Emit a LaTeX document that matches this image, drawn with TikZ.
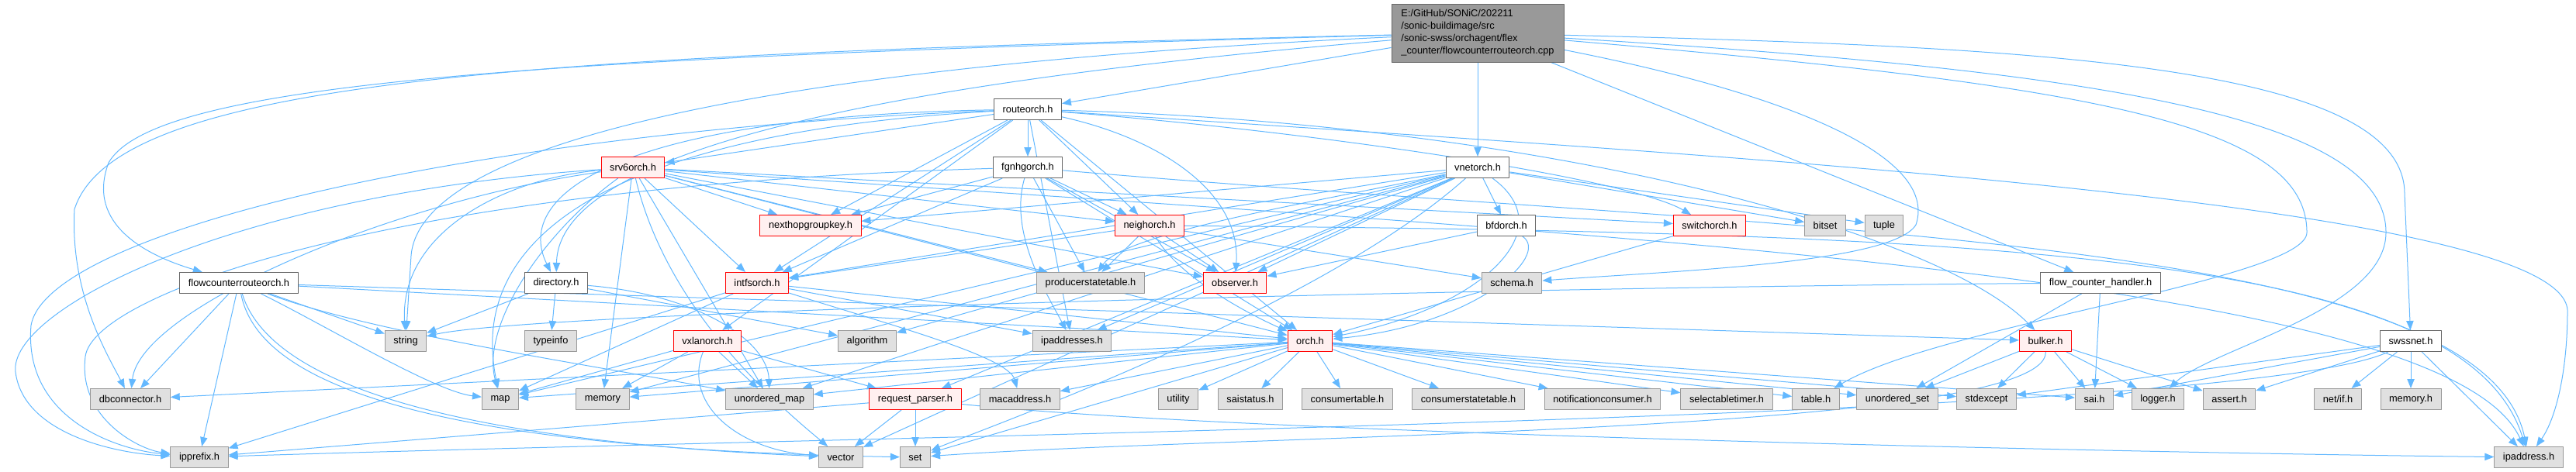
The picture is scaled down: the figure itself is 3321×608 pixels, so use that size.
\documentclass[tikz,border=0pt]{standalone}
\usepackage{fontspec}
\setmainfont{Liberation Sans}
\usetikzlibrary{arrows.meta,backgrounds}
\definecolor{edgeblue}{RGB}{99,184,255}
\definecolor{sysfill}{RGB}{224,224,224}
\definecolor{sysdraw}{RGB}{153,153,153}
\definecolor{hdrdraw}{RGB}{102,102,102}
\definecolor{truncfill}{RGB}{255,240,240}
\definecolor{truncdraw}{RGB}{255,0,0}
\definecolor{rootfill}{RGB}{153,153,153}

\begin{document}
\begin{tikzpicture}[x=0.75pt,y=-0.75pt,line cap=round,line join=round,
 >={Triangle[length=9pt,width=7pt]},
 box/.style={draw,line width=0.75pt,minimum height=20.25pt,inner xsep=8.3pt,inner ysep=0pt,
  font=\fontsize{9.6}{12}\selectfont},
 sysbox/.style={box,fill=sysfill,draw=sysdraw},
 hdrbox/.style={box,fill=white,draw=hdrdraw},
 truncbox/.style={box,fill=truncfill,draw=truncdraw},
 rootbox/.style={box,fill=rootfill,draw=hdrdraw,align=left,minimum width=166.5pt,minimum height=56.25pt},
 edge/.style={->,draw=edgeblue,line width=0.75pt}]
\useasboundingbox (0,0) rectangle (3321,608);
% Plik źródłowy i nagłówki projektu.
\node[rootbox] (root) at (1905,42.5)
 {E:/GitHub/SONiC/202211\\/sonic-buildimage/src\\/sonic-swss/orchagent/flex\\\_counter/flowcounterrouteorch.cpp};
\node[hdrbox] (routeorch) at (1325,141) {routeorch.h};
\node[truncbox] (srv6) at (816,216) {srv6orch.h};
\node[hdrbox] (fgnhg) at (1325,216) {fgnhgorch.h};
\node[hdrbox] (vnet) at (1905,216) {vnetorch.h};
\node[truncbox] (nhgkey) at (1045,291) {nexthopgroupkey.h};
\node[truncbox] (neighorch) at (1482,291) {neighorch.h};
\node[hdrbox] (bfdorch) at (1942,291) {bfdorch.h};
\node[truncbox] (switchorch) at (2204,291) {switchorch.h};
\node[sysbox] (bitset) at (2353,291) {bitset};
\node[sysbox] (tuple) at (2429,291) {tuple};
\node[hdrbox] (fcro) at (308,365) {flowcounterrouteorch.h};
\node[hdrbox] (directory) at (717,365) {directory.h};
\node[truncbox] (intfsorch) at (976,365) {intfsorch.h};
\node[sysbox] (prodst) at (1406,365) {producerstatetable.h};
\node[truncbox] (observer) at (1592,365) {observer.h};
\node[sysbox] (schema) at (1949,365) {schema.h};
\node[hdrbox] (fch) at (2708,365) {flow\_counter\_handler.h};
\node[sysbox] (string) at (523,440) {string};
\node[sysbox] (typeinfo) at (710,440) {typeinfo};
\node[truncbox] (vxlanorch) at (912,440) {vxlanorch.h};
\node[sysbox] (algorithm) at (1118,440) {algorithm};
\node[sysbox] (ipaddresses) at (1382,440) {ipaddresses.h};
\node[truncbox] (orch) at (1689,440) {orch.h};
\node[truncbox] (bulker) at (2637,440) {bulker.h};
\node[hdrbox] (swssnet) at (3108,440) {swssnet.h};
% Nagłówki systemowe i biblioteki swss-common.
\node[sysbox] (dbconn) at (168,515) {dbconnector.h};
\node[sysbox] (map) at (645,515) {map};
\node[sysbox] (memory) at (777,515) {memory};
\node[sysbox] (unordmap) at (992,515) {unordered\_map};
\node[truncbox] (reqparser) at (1180,515) {request\_parser.h};
\node[sysbox] (macaddress) at (1315,515) {macaddress.h};
\node[sysbox] (utility) at (1519,515) {utility};
\node[sysbox] (saistatus) at (1612,515) {saistatus.h};
\node[sysbox] (constable) at (1737,515) {consumertable.h};
\node[sysbox] (consstate) at (1893,515) {consumerstatetable.h};
\node[sysbox] (notifcons) at (2066,515) {notificationconsumer.h};
\node[sysbox] (seltimer) at (2226,515) {selectabletimer.h};
\node[sysbox] (table) at (2341,515) {table.h};
\node[sysbox] (unordset) at (2446,515) {unordered\_set};
\node[sysbox] (stdexcept) at (2561,515) {stdexcept};
\node[sysbox] (sai) at (2700,515) {sai.h};
\node[sysbox] (logger) at (2782,515) {logger.h};
\node[sysbox] (assert) at (2874,515) {assert.h};
\node[sysbox] (netif) at (3014,515) {net/if.h};
\node[sysbox] (memoryh) at (3108,515) {memory.h};
\node[sysbox] (ipprefix) at (257,590) {ipprefix.h};
\node[sysbox] (vector) at (1084,590) {vector};
\node[sysbox] (set) at (1180,590) {set};
\node[sysbox] (ipaddress) at (3260,590) {ipaddress.h};
\begin{scope}[on background layer]
% Krawędzie z pliku .cpp.
\draw[edge] (root) -- (routeorch);
\draw[edge] (root) -- (vnet);
\draw[edge] (root) .. controls (1100,110) and (720,200) .. (directory);
\draw[edge] (root) .. controls (900,90) and (540,200) .. (530,330) -- (string);
\draw[edge] (root) -- (fch);
\draw[edge] (root) .. controls (700,70) and (150,100) .. (96,270)
 .. controls (90,380) and (140,460) .. (dbconn);
\draw[edge] (root) .. controls (700,74) and (200,105) .. (140,210)
 .. controls (110,290) and (190,330) .. (fcro);
\draw[edge] (root) .. controls (2600,60) and (3100,80) .. (3100,250) -- (swssnet);
\draw[edge] (root) .. controls (2700,90) and (3076,150) .. (3076,300)
 .. controls (3076,400) and (2850,450) .. (logger);
\draw[edge] (root) .. controls (2700,110) and (2974,160) .. (2974,300)
 .. controls (2974,360) and (2500,420) .. (table);
\draw[edge] (root) .. controls (2300,120) and (2500,200) .. (2470,290)
 .. controls (2440,340) and (2150,350) .. (schema);
% routeorch.h
\draw[edge] (routeorch) -- (fgnhg);
\draw[edge] (routeorch) -- (srv6);
\draw[edge] (routeorch) -- (nhgkey);
\draw[edge] (routeorch) -- (neighorch);
\draw[edge] (routeorch) .. controls (1700,170) and (2100,230) .. (switchorch);
\draw[edge] (routeorch) .. controls (800,150) and (660,250) .. (directory);
\draw[edge] (routeorch) -- (intfsorch);
\draw[edge] (routeorch) -- (vxlanorch);
\draw[edge] (routeorch) .. controls (1500,180) and (1600,250) .. (observer);
\draw[edge] (routeorch) -- (orch);
\draw[edge] (routeorch) .. controls (2000,160) and (2500,300) .. (bulker);
\draw[edge] (routeorch) -- (ipaddresses);
\draw[edge] (routeorch) .. controls (800,170) and (600,300) .. (map);
\draw[edge] (routeorch) .. controls (600,170) and (60,300) .. (40,420)
 .. controls (30,540) and (150,580) .. (ipprefix);
\draw[edge] (routeorch) .. controls (2200,200) and (3300,260) .. (3310,400)
 .. controls (3310,480) and (3295,540) .. (ipaddress);
% srv6orch.h
\draw[edge] (srv6) -- (nhgkey);
\draw[edge] (srv6) -- (neighorch);
\draw[edge] (srv6) -- (switchorch);
\draw[edge] (srv6) -- (observer);
\draw[edge] (srv6) -- (intfsorch);
\draw[edge] (srv6) -- (prodst);
\draw[edge] (srv6) -- (orch);
\draw[edge] (srv6) .. controls (500,260) and (180,400) .. (dbconn);
\draw[edge] (srv6) -- (unordmap);
\draw[edge] (srv6) .. controls (650,230) and (515,300) .. (string);
\draw[edge] (srv6) .. controls (700,300) and (620,420) .. (map);
\draw[edge] (srv6) -- (memory);
\draw[edge] (srv6) .. controls (860,400) and (1000,520) .. (vector);
\draw[edge] (srv6) .. controls (300,250) and (10,400) .. (20,480)
 .. controls (30,560) and (150,585) .. (ipprefix);
\draw[edge] (srv6) .. controls (2000,300) and (3150,350) .. (ipaddress);
% fgnhgorch.h
\draw[edge] (fgnhg) -- (nhgkey);
\draw[edge] (fgnhg) -- (neighorch);
\draw[edge] (fgnhg) -- (observer);
\draw[edge] (fgnhg) -- (intfsorch);
\draw[edge] (fgnhg) -- (prodst);
\draw[edge] (fgnhg) -- (orch);
\draw[edge] (fgnhg) .. controls (1300,300) and (1350,380) .. (ipaddresses);
\draw[edge] (fgnhg) .. controls (500,240) and (120,380) .. (110,460)
 .. controls (100,540) and (180,580) .. (ipprefix);
\draw[edge] (fgnhg) .. controls (2300,300) and (3200,300) .. (ipaddress);
% vnetorch.h
\draw[edge] (vnet) -- (nhgkey);
\draw[edge] (vnet) -- (bfdorch);
\draw[edge] (vnet) -- (bitset);
\draw[edge] (vnet) -- (tuple);
\draw[edge] (vnet) -- (observer);
\draw[edge] (vnet) -- (intfsorch);
\draw[edge] (vnet) .. controls (1700,260) and (1450,300) .. (prodst);
\draw[edge] (vnet) -- (reqparser);
\draw[edge] (vnet) -- (ipaddresses);
\draw[edge] (vnet) .. controls (2020,300) and (1900,400) .. (orch);
\draw[edge] (vnet) -- (algorithm);
\draw[edge] (vnet) -- (map);
\draw[edge] (vnet) -- (memory);
\draw[edge] (vnet) .. controls (1700,400) and (1250,560) .. (set);
\draw[edge] (vnet) -- (unordmap);
\draw[edge] (vnet) -- (vector);
% pozostałe nagłówki orchagent
\draw[edge] (neighorch) -- (observer);
\draw[edge] (neighorch) -- (prodst);
\draw[edge] (neighorch) .. controls (1520,360) and (1620,410) .. (orch);
\draw[edge] (neighorch) -- (intfsorch);
\draw[edge] (neighorch) -- (schema);
\draw[edge] (neighorch) .. controls (2600,300) and (3180,330) .. (ipaddress);
\draw[edge] (bfdorch) -- (observer);
\draw[edge] (bfdorch) .. controls (2000,330) and (1900,420) .. (orch);
\draw[edge] (switchorch) -- (orch);
\draw[edge] (intfsorch) -- (orch);
\draw[edge] (intfsorch) -- (map);
\draw[edge] (intfsorch) -- (ipprefix);
\draw[edge] (intfsorch) -- (ipaddresses);
\draw[edge] (intfsorch) .. controls (1150,420) and (1300,460) .. (macaddress);
\draw[edge] (vxlanorch) -- (map);
\draw[edge] (vxlanorch) -- (memory);
\draw[edge] (vxlanorch) -- (unordmap);
\draw[edge] (vxlanorch) .. controls (880,520) and (950,580) .. (vector);
\draw[edge] (vxlanorch) -- (reqparser);
\draw[edge] (directory) -- (string);
\draw[edge] (directory) -- (typeinfo);
\draw[edge] (directory) .. controls (900,380) and (990,440) .. (unordmap);
\draw[edge] (directory) -- (algorithm);
\draw[edge] (fcro) -- (dbconn);
\draw[edge] (fcro) -- (ipprefix);
\draw[edge] (fcro) -- (string);
\draw[edge] (fcro) .. controls (420,420) and (560,505) .. (map);
\draw[edge] (fcro) .. controls (330,480) and (500,578) .. (set);
\draw[edge] (fcro) .. controls (480,430) and (760,470) .. (unordmap);
\draw[edge] (fcro) .. controls (340,470) and (500,565) .. (vector);
\draw[edge] (fcro) -- (orch);
\draw[edge] (fcro) -- (bulker);
% orch.h
\draw[edge] (orch) -- (map);
\draw[edge] (orch) -- (memory);
\draw[edge] (orch) -- (utility);
\draw[edge] (orch) -- (set);
\draw[edge] (orch) -- (unordmap);
\draw[edge] (orch) -- (unordset);
\draw[edge] (orch) -- (sai);
\draw[edge] (orch) -- (saistatus);
\draw[edge] (orch) -- (dbconn);
\draw[edge] (orch) -- (table);
\draw[edge] (orch) -- (constable);
\draw[edge] (orch) -- (consstate);
\draw[edge] (orch) -- (notifcons);
\draw[edge] (orch) -- (seltimer);
\draw[edge] (orch) -- (macaddress);
\draw[edge] (orch) -- (stdexcept);
% bulker.h, flow_counter_handler.h, swssnet.h, request_parser.h
\draw[edge] (bulker) -- (unordset);
\draw[edge] (bulker) -- (stdexcept);
\draw[edge] (bulker) -- (sai);
\draw[edge] (bulker) -- (logger);
\draw[edge] (bulker) -- (assert);
\draw[edge] (bulker) .. controls (2640,560) and (1600,560) .. (set);
\draw[edge] (fch) -- (sai);
\draw[edge] (fch) -- (unordset);
\draw[edge] (fch) .. controls (2000,370) and (700,400) .. (string);
\draw[edge] (swssnet) -- (sai);
\draw[edge] (swssnet) -- (stdexcept);
\draw[edge] (swssnet) -- (assert);
\draw[edge] (swssnet) -- (netif);
\draw[edge] (swssnet) -- (memoryh);
\draw[edge] (swssnet) -- (ipaddress);
\draw[edge] (swssnet) .. controls (2900,540) and (1200,560) .. (ipprefix);
\draw[edge] (reqparser) -- (vector);
\draw[edge] (reqparser) -- (set);
\draw[edge] (reqparser) -- (ipprefix);
\draw[edge] (reqparser) .. controls (1600,560) and (2800,585) .. (ipaddress);
\end{scope}
\end{tikzpicture}
\end{document}
